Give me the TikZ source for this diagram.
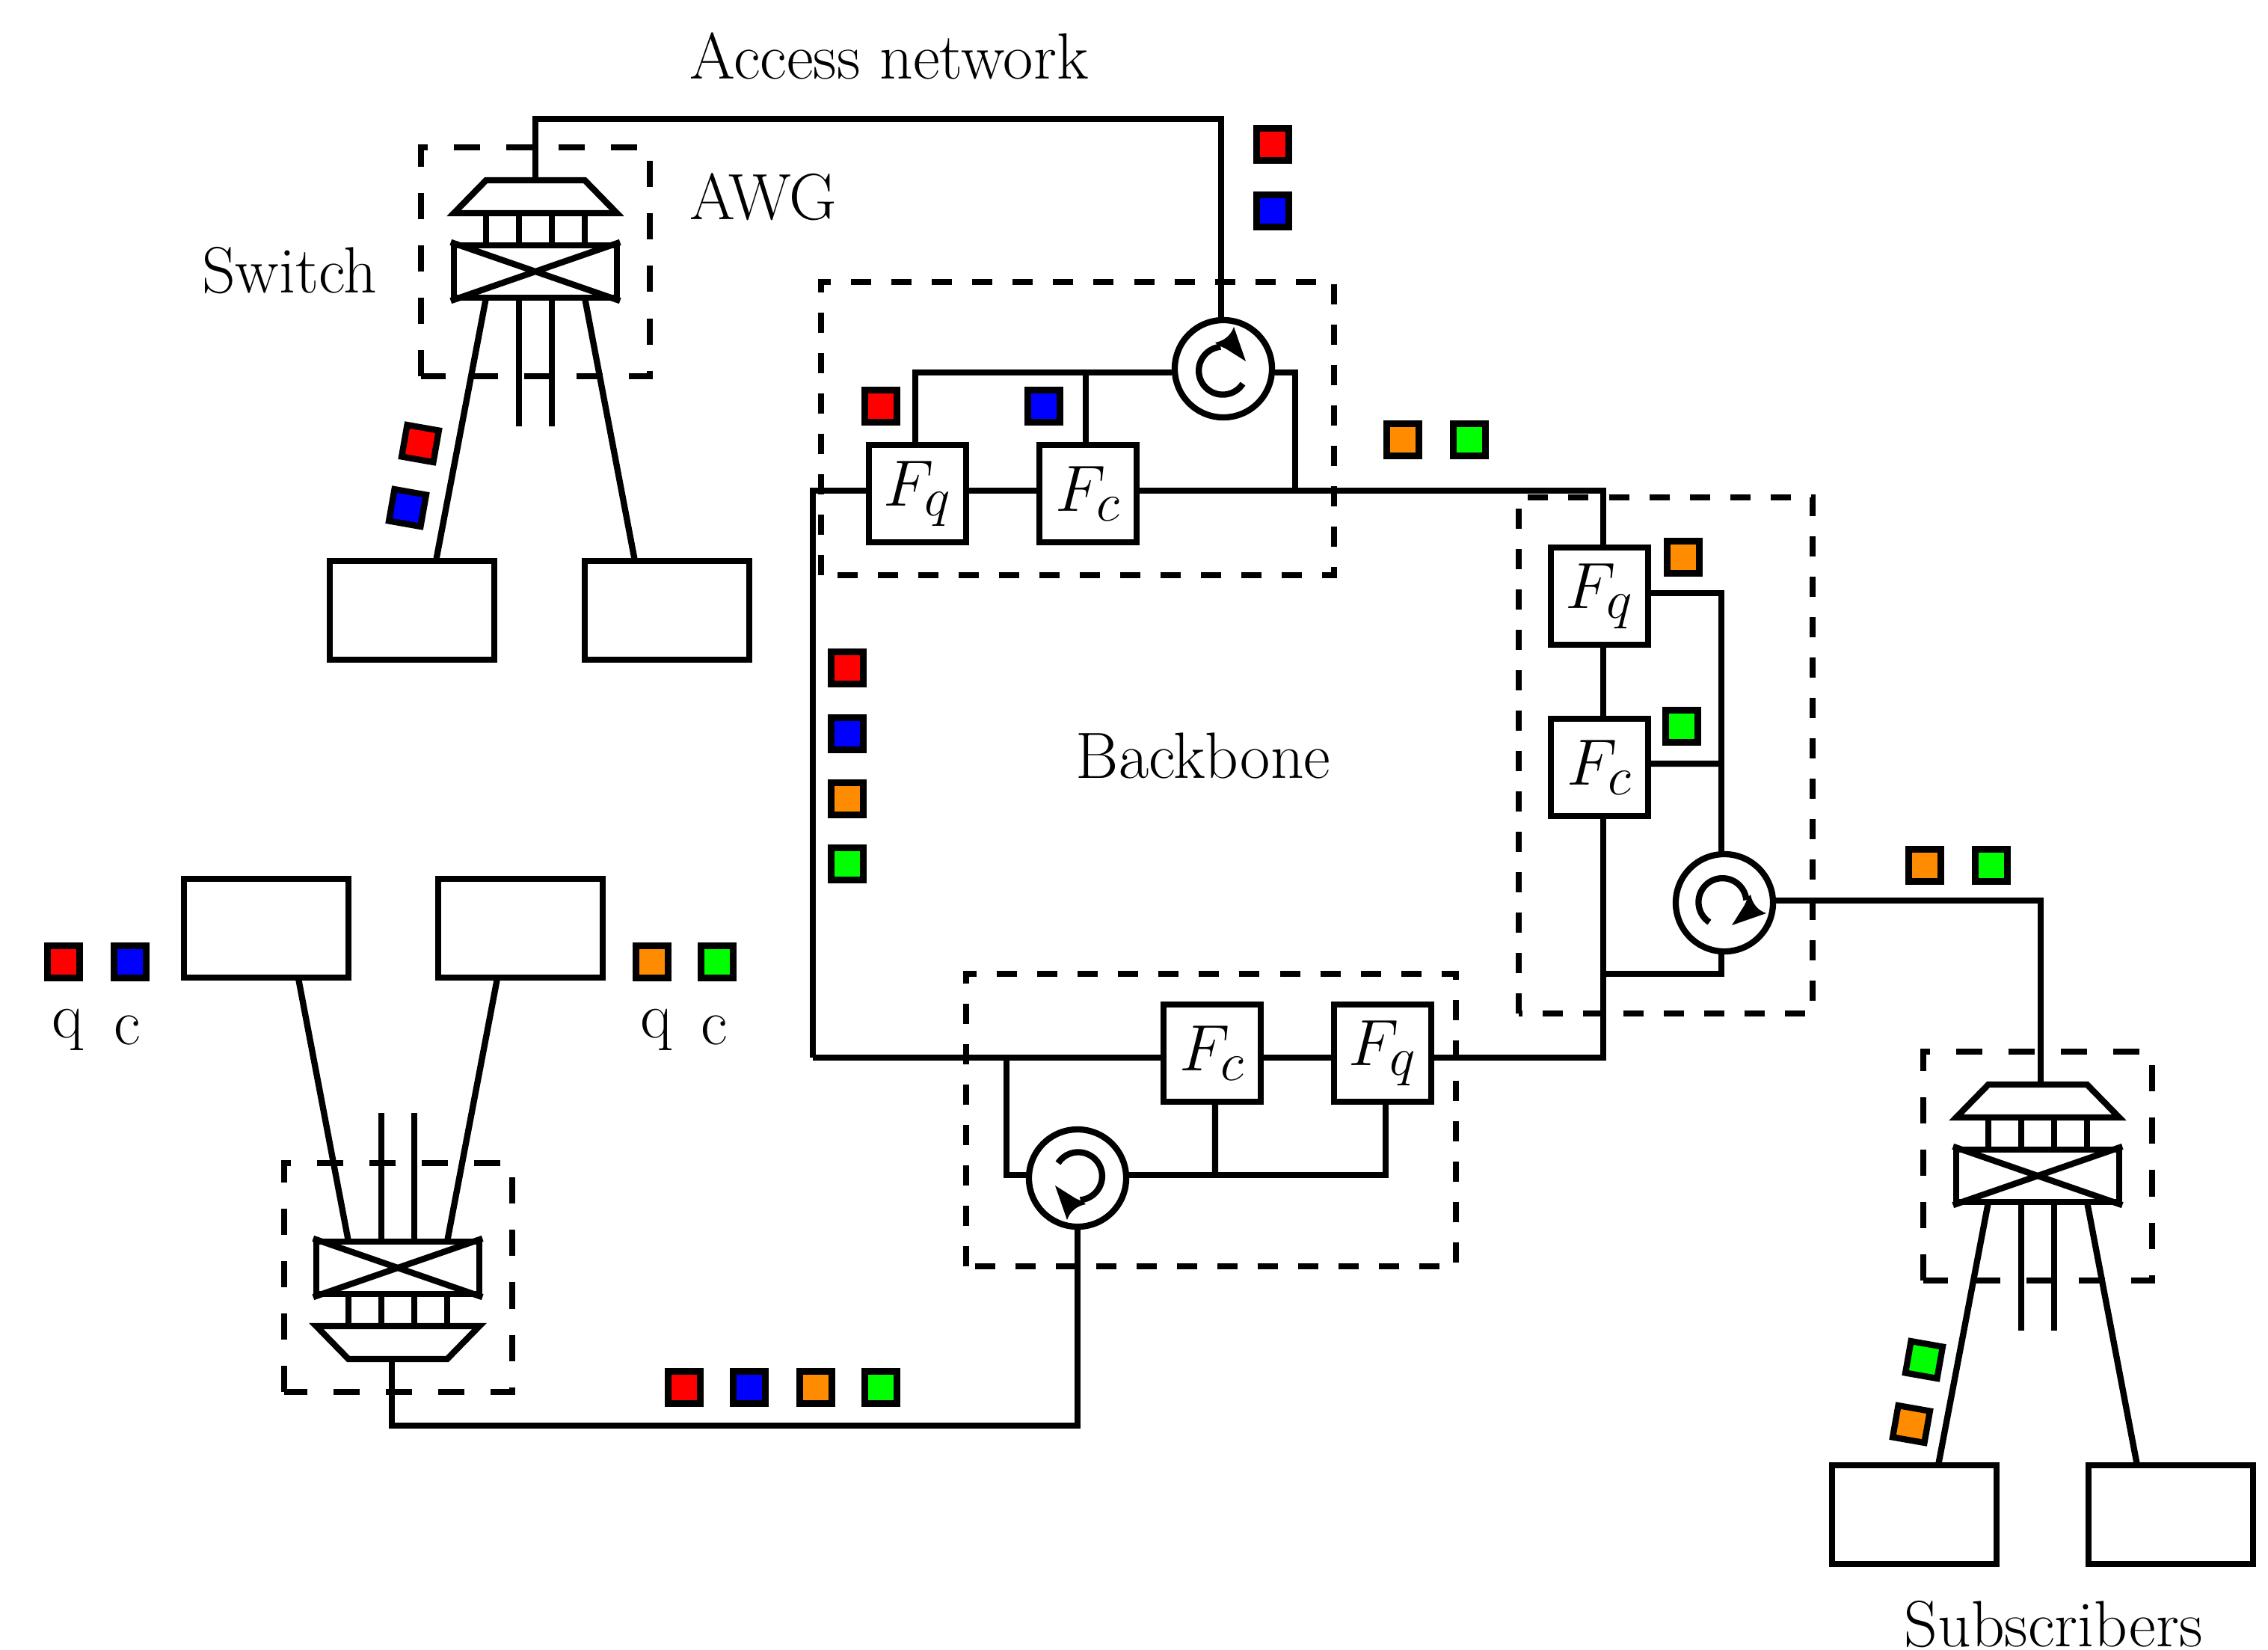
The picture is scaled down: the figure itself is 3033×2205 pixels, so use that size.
\documentclass[tikz,border=0pt]{standalone}
\usepackage{tikz}
\definecolor{tagorange}{RGB}{255,140,0}
\tikzset{every picture/.style={line width=2.36pt}}
\tikzset{
  every node/.style={font=\fontsize{24.88}{30}\selectfont},
  filterbox/.style={draw,minimum size=1.3cm,inner sep=0pt},
  circbox/.style={draw,circle,minimum size=1.3cm,inner sep=0pt},
  userbox/.style={draw,minimum width=2.2cm,minimum height=1.32cm,inner sep=0pt},
  swbox/.style={draw,minimum width=2.18cm,minimum height=.7cm,inner sep=0pt},
  tag/.style={draw,minimum size=.43cm,inner sep=0pt},
  awgdash/.style={dash pattern=on .35cm off .35cm},
  nodedash/.style={dash pattern=on .27cm off .27cm},
  pics/circarrow/.style={code={
    \draw (26,20) arc[start angle=-33,end angle=-265,radius=.32cm];
    \fill (30,-10) -- (14,-56) .. controls (10,-44) and (0,-37) .. (-11,-35) -- (-8,-32) -- (3,-27) -- cycle;
  }},
  pics/awgswitch/.style={code={
    \node[swbox] (-sw) at (0,0) {};
    \draw (-sw.north west) -- (-sw.south east) (-sw.north east) -- (-sw.south west);
    \draw (-66,-122) -- (66,-122) -- (109,-78) -- (-109,-78) -- cycle;
    \foreach \s in {-66,-22,22,66} {
      \draw (\s,-35) -- (\s,-78);
    }
    \foreach \s in {-22,22} {
      \draw (\s,35) -- (\s,207);
    }
    \coordinate (-in) at (0,-118);
    \draw (-66,35) -- (-133,387);
    \draw (66,35) -- (133,387);
  }},
}

\begin{document}
\begin{tikzpicture}[x=.01cm,y=-.01cm]
    \useasboundingbox (0,0) rectangle (3033,2205);

    % access switches
    \pic (a) at (716,363) {awgswitch};
    \pic[yscale=-1] (b) at (532,1695) {awgswitch};
    \pic (c) at (2725,1572) {awgswitch};
    \draw[awgdash] (563,503) rectangle (869,197);
    \draw[awgdash] (380,1861) rectangle (685,1555);
    \draw[awgdash] (2572,1712) rectangle (2878,1406);

    % end boxes
    \node[userbox] (a1) at (551,816) {};
    \node[userbox] (a2) at (892,816) {};
    \node[userbox] (b1) at (356,1241) {};
    \node[userbox] (b2) at (696,1241) {};
    \node[userbox] (c1) at (2560,2025) {};
    \node[userbox] (c2) at (2903,2025) {};

    % add/drop nodes
    \draw[nodedash] (1098,769) rectangle (1784,377);
    \draw[nodedash] (2031,1355) rectangle (2424,665);
    \draw[nodedash] (1292,1693) rectangle (1947,1302);

    \node[filterbox] (fqt) at (1227,660) {$F_q$};
    \node[filterbox] (fct) at (1455,660) {$F_c$};
    \node[filterbox] (fqr) at (2139,797) {$F_q$};
    \node[filterbox] (fcr) at (2139,1026) {$F_c$};
    \node[filterbox] (fcb) at (1621,1408) {$F_c$};
    \node[filterbox] (fqb) at (1849,1408) {$F_q$};

    \node[circbox] (circt) at (1636,493) {};
    \node[circbox] (circr) at (2306,1207) {};
    \node[circbox] (circb) at (1441,1575) {};
    \pic at (circt) {circarrow};
    \pic[rotate=-90] at (circr) {circarrow};
    \pic[rotate=180] at (circb) {circarrow};

    % junctions on the ring
    \coordinate (ringtl) at (1087,656);
    \coordinate (ringbl) at (1087,1414);
    \coordinate (jt) at (1732,656);
    \coordinate (jr) at (2302,1021);
    \coordinate (jrb) at (2144,1302);
    \coordinate (jb) at (1346,1414);
    \coordinate (jbc) at (1625,1571);

    % ring
    \draw (ringbl) -- (ringtl) -- (fqt.west |- ringtl);
    \draw (fqt.east |- ringtl) -- (fct.west |- ringtl);
    \draw (fct.east |- ringtl) -| ([xshift=.05cm]fqr.north);
    \draw ([xshift=.05cm]fqr.south) -- ([xshift=.05cm]fcr.north);
    \draw (ringbl) -- (fcb.west |- ringbl);
    \draw (fcb.east |- ringbl) -- (fqb.west |- ringbl);
    \draw (fqb.east |- ringbl) -| ([xshift=.05cm]fcr.south);

    % top node
    \draw ([yshift=-.05cm]circt.west) -| ([xshift=-.03cm]fqt.north);
    \draw ([xshift=-.03cm]fct.north) -- ([xshift=-.03cm,yshift=-.05cm]fct.north |- circt.west);
    \draw ([yshift=-.05cm]circt.east) -| (jt);

    % right node
    \draw ([yshift=.04cm]fqr.east) -| ([xshift=-.04cm]circr.north);
    \draw ([yshift=.05cm]fcr.east) -- (jr);
    \draw ([xshift=-.04cm]circr.south) |- (jrb);

    % bottom node
    \draw (jb) |- ([yshift=.04cm]circb.west);
    \draw ([yshift=.04cm]circb.east) -| ([xshift=.04cm]fqb.south);
    \draw ([xshift=.04cm]fcb.south) -- (jbc);

    % feeders
    \draw (a-in) -- ++(0,-86) -| ([xshift=-.03cm]circt.north);
    \draw ([xshift=-.08cm]b-in) -- ++(0,93) -| (circb.south);
    \draw ([yshift=.03cm]circr.east) -| ([xshift=.04cm]c-in);

    % wavelength tags
    \foreach \n/\c/\x/\y in {1/red/1702/193,2/blue/1702/282,3/red/1178/543,4/blue/1396/543,
        5/tagorange/1876/588,6/green/1965/588,7/tagorange/2251/745,8/green/2249/971,
        9/tagorange/2574/1157,10/green/2663/1157,11/red/1133/893,12/blue/1133/981,
        13/tagorange/1133/1068,14/green/1133/1155,15/red/85/1286,16/blue/174/1286,
        17/tagorange/872/1286,18/green/959/1286,19/red/915/1855,20/blue/1002/1855,
        21/tagorange/1091/1855,22/green/1178/1855} {
        \node[tag,fill=\c] (t\n) at (\x,\y) {};
    }
    \foreach \n/\c/\x/\y in {23/red/562/593,24/blue/545/679,25/green/2573/1818,26/tagorange/2556/1904} {
        \node[tag,fill=\c,rotate=-10] (t\n) at (\x,\y) {};
    }

    % labels
    \node (access) at (1189,75) {Access network};
    \node (awg) at (1021,263) {AWG};
    \node (switch) at (387,362) {Switch};
    \node (backbone) at (1609,1010) {Backbone};
    \node (subs) at (2746,2172) {Subscribers};
    \node (q1) at (91,1377) {q};
    \node (c1l) at (170,1377) {c};
    \node (q2) at (878,1377) {q};
    \node (c2l) at (955,1377) {c};
\end{tikzpicture}
\end{document}
